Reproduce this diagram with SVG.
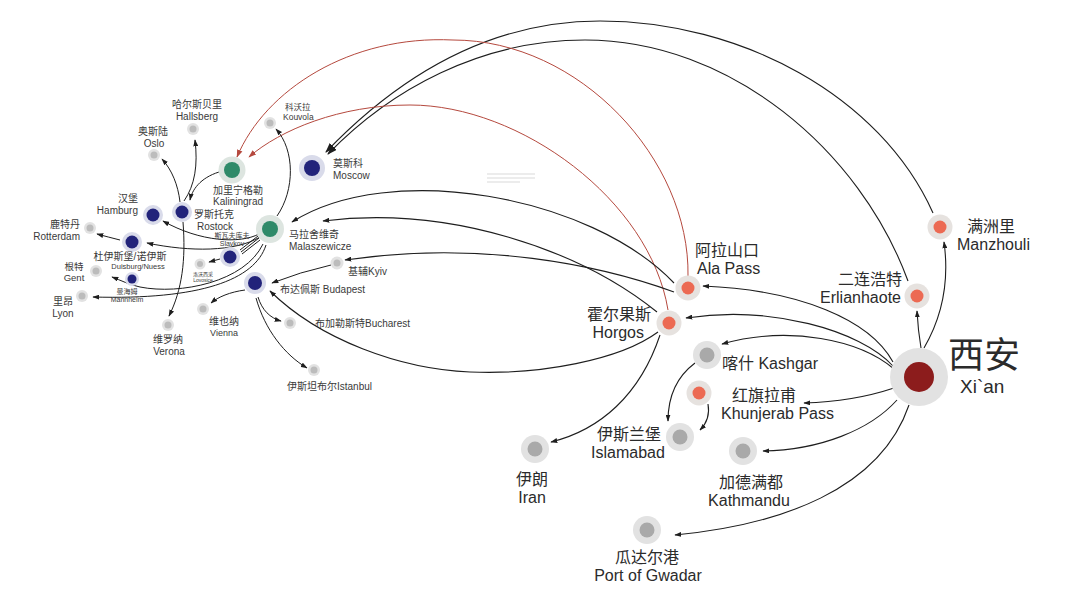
<svg xmlns="http://www.w3.org/2000/svg" width="1080" height="606" viewBox="0 0 1080 606">
<defs>
<style>
.c{fill:none;stroke:#1e1e1e;stroke-width:1.1}
.cs{fill:none;stroke:#1e1e1e;stroke-width:1}
.r{fill:none;stroke:#b5493e;stroke-width:1}
.hg{fill:#e2e2e2}.hs{fill:#e6e2df}.hn{fill:#d9dbea}.hgr{fill:#dde5e0}
.ig{fill:#a9a9a9}.is{fill:#ec6a53}.in{fill:#22237a}.igr{fill:#2f8a69}.ix{fill:#8c1c1c}.ism{fill:#bcbcbc}
text{font-family:"Liberation Sans","Noto Sans CJK SC",sans-serif;fill:#2b2b2b}
.L{font-size:16px}
.S{font-size:10px;fill:#3a3a3a}
.m{text-anchor:middle}.e{text-anchor:end}
</style>
<marker id="as" viewBox="0 0 10 7" refX="9" refY="3.5" markerWidth="7" markerHeight="5" orient="auto" markerUnits="userSpaceOnUse"><path d="M0,0 L10,3.5 L0,7 z" fill="#1e1e1e"/></marker>
<marker id="ab" viewBox="0 0 10 7" refX="9" refY="3.5" markerWidth="10" markerHeight="7" orient="auto" markerUnits="userSpaceOnUse"><path d="M0,0 L10,3.5 L0,7 z" fill="#1e1e1e"/></marker>
<marker id="arr" viewBox="0 0 10 7" refX="9" refY="3.5" markerWidth="8" markerHeight="6" orient="auto" markerUnits="userSpaceOnUse"><path d="M0,0 L10,3.5 L0,7 z" fill="#b5493e"/></marker>
</defs>
<rect width="1080" height="606" fill="#ffffff"/>

<g id="connectors">
<path class="c" d="M924 348 Q952 300 944 242" marker-end="url(#as)"/>
<path class="c" d="M921 348 Q918 330 917 311" marker-end="url(#as)"/>
<path class="c" d="M893 362 C870 320 800 290 703 286" marker-end="url(#as)"/>
<path class="c" d="M893 366 C860 330 770 305 686 318" marker-end="url(#as)"/>
<path class="c" d="M894 369 C860 340 790 325 722 344" marker-end="url(#as)"/>
<path class="c" d="M894 388 C870 396 840 402 804 403" marker-end="url(#as)"/>
<path class="c" d="M897 400 C870 430 820 450 763 451" marker-end="url(#as)"/>
<path class="c" d="M909 405 C880 490 780 525 675 535" marker-end="url(#as)"/>
<path class="c" d="M933 213 C880 95 740 21 600 21 C490 21 400 75 326 152" marker-end="url(#ab)"/>
<path class="c" d="M908 281 C860 150 730 40 585 40 C480 40 390 90 328 154" marker-end="url(#ab)"/>
<path class="r" d="M688 276 C690 160 580 40 453 40 C350 35 265 90 237 157" marker-end="url(#arr)"/>
<path class="r" d="M668 310 C650 200 520 105 410 105 C340 105 280 130 249 157" marker-end="url(#arr)"/>
<path class="c" d="M674 283 C590 195 390 160 292 222" marker-end="url(#as)"/>
<path class="c" d="M657 312 C580 250 450 205 323 221" marker-end="url(#as)"/>
<path class="c" d="M674 292 C600 265 480 240 345 260" marker-end="url(#as)"/>
<path class="c" d="M658 332 C620 360 540 375 470 372 C400 369 320 340 270 291" marker-end="url(#as)"/>
<path class="c" d="M660 335 C640 395 600 430 551 442" marker-end="url(#as)"/>
<path class="c" d="M695 363 C675 378 668 400 668 421" marker-end="url(#as)"/>
<path class="c" d="M708 404 C710 415 706 424 700 430" marker-end="url(#as)"/>
<path class="cs" d="M331 265 Q300 272 272 283" marker-end="url(#as)"/>
<path class="cs" d="M245 290 C230 292 218 297 211 303" marker-end="url(#as)"/>
<path class="cs" d="M258 297 C262 310 270 318 281 321" marker-end="url(#as)"/>
<path class="cs" d="M256 298 C265 330 285 355 307 368" marker-end="url(#as)"/>
<path class="cs" d="M277 216 C295 190 295 150 276 129" marker-end="url(#as)"/>
<path class="cs" d="M258 236 L240 250"/>
<path class="cs" d="M259 238 L241 252"/>
<path class="cs" d="M260 240 L242 254"/>
<path class="cs" d="M259 234 C240 244 200 242 163 221" marker-end="url(#as)"/>
<path class="cs" d="M260 237 C235 252 190 252 147 243" marker-end="url(#as)"/>
<path class="cs" d="M220 259 L209 262" marker-end="url(#as)"/>
<path class="cs" d="M263 244 C245 282 180 295 140 287 C130 285 120 280 112 277" marker-end="url(#as)"/>
<path class="cs" d="M266 245 C255 280 200 300 93 297" marker-end="url(#as)"/>
<path class="cs" d="M120 240 Q108 237 97 234" marker-end="url(#as)"/>
<path class="cs" d="M219 172 C200 178 192 190 190 200" marker-end="url(#as)"/>
<path class="cs" d="M180 202 C178 185 172 170 162 159" marker-end="url(#as)"/>
<path class="cs" d="M184 201 C195 185 198 165 195 140" marker-end="url(#as)"/>
<path class="cs" d="M183 222 C186 260 182 290 169 316" marker-end="url(#as)"/>
</g>

<g id="faint-note" stroke="#cfcfcf" stroke-width="0.8">
<line x1="487" y1="174" x2="535" y2="174"/>
<line x1="487" y1="178" x2="535" y2="178"/>
<line x1="487" y1="182" x2="520" y2="182"/>
</g>

<g id="xian"><circle class="hg" cx="919" cy="377" r="29"/><circle class="ix" cx="919" cy="377" r="15"/>
<text><tspan x="948" y="368" style="font-size:36px">西安</tspan><tspan x="960" y="393" style="font-size:19px">Xi`an</tspan></text></g>
<g id="manzhouli"><circle class="hs" cx="940" cy="227" r="12.5"/><circle class="is" cx="940" cy="227" r="6.5"/>
<text class="L"><tspan x="967" y="232">满洲里</tspan><tspan x="957" y="250">Manzhouli</tspan></text></g>
<g id="erlianhaote"><circle class="hs" cx="917" cy="296" r="12.5"/><circle class="is" cx="917" cy="296" r="6.5"/>
<text class="L e"><tspan x="902" y="285">二连浩特</tspan><tspan x="901" y="303">Erlianhaote</tspan></text></g>
<g id="alapass"><circle class="hs" cx="688" cy="288" r="12.5"/><circle class="is" cx="688" cy="288" r="6.5"/>
<text class="L"><tspan x="695" y="256">阿拉山口</tspan><tspan x="697" y="274">Ala Pass</tspan></text></g>
<g id="horgos"><circle class="hs" cx="669" cy="323" r="12.5"/><circle class="is" cx="669" cy="323" r="6.5"/>
<text class="L e"><tspan x="651" y="320">霍尔果斯</tspan><tspan x="644" y="338">Horgos</tspan></text></g>
<g id="kashgar"><circle class="hg" cx="707" cy="355" r="14"/><circle class="ig" cx="707" cy="355" r="7.5"/>
<text class="L" x="722" y="369">喀什 Kashgar</text></g>
<g id="khunjerab"><circle class="hs" cx="699" cy="393" r="12.5"/><circle class="is" cx="699" cy="393" r="6.5"/>
<text class="L"><tspan x="732" y="401">红旗拉甫</tspan><tspan x="721" y="419">Khunjerab Pass</tspan></text></g>
<g id="islamabad"><circle class="hg" cx="680" cy="437" r="14"/><circle class="ig" cx="680" cy="437" r="7.5"/>
<text class="L"><tspan x="597" y="440">伊斯兰堡</tspan><tspan x="591" y="458">Islamabad</tspan></text></g>
<g id="kathmandu"><circle class="hg" cx="743" cy="451" r="14"/><circle class="ig" cx="743" cy="451" r="7.5"/>
<text class="L m"><tspan x="751" y="488">加德满都</tspan><tspan x="749" y="506">Kathmandu</tspan></text></g>
<g id="iran"><circle class="hg" cx="535" cy="449" r="14"/><circle class="ig" cx="535" cy="449" r="7.5"/>
<text class="L m"><tspan x="532" y="485">伊朗</tspan><tspan x="532" y="503">Iran</tspan></text></g>
<g id="gwadar"><circle class="hg" cx="647" cy="530" r="14"/><circle class="ig" cx="647" cy="530" r="7.5"/>
<text class="L m"><tspan x="647" y="563">瓜达尔港</tspan><tspan x="648" y="581">Port of Gwadar</tspan></text></g>

<g id="moscow"><circle class="hn" cx="312" cy="168" r="13"/><circle class="in" cx="312" cy="168" r="8"/>
<text class="S"><tspan x="333" y="167">莫斯科</tspan><tspan x="333" y="179">Moscow</tspan></text></g>
<g id="kaliningrad"><circle class="hgr" cx="232" cy="170" r="13.5"/><circle class="igr" cx="232" cy="170" r="8"/>
<text class="S m"><tspan x="238" y="193.5">加里宁格勒</tspan><tspan x="238" y="205">Kaliningrad</tspan></text></g>
<g id="kouvola"><circle class="hg" cx="270" cy="123" r="6"/><circle class="ism" cx="270" cy="123" r="3.5"/>
<text class="S" style="font-size:8.5px"><tspan x="285" y="110">科沃拉</tspan><tspan x="283" y="120">Kouvola</tspan></text></g>
<g id="hallsberg"><circle class="hg" cx="193" cy="129" r="6"/><circle class="ism" cx="193" cy="129" r="3.5"/>
<text class="S m"><tspan x="197" y="108">哈尔斯贝里</tspan><tspan x="197" y="119.5">Hallsberg</tspan></text></g>
<g id="oslo"><circle class="hg" cx="154" cy="155" r="6"/><circle class="ism" cx="154" cy="155" r="3.5"/>
<text class="S m"><tspan x="153" y="135">奥斯陆</tspan><tspan x="154" y="146.5">Oslo</tspan></text></g>
<g id="rostock"><circle class="hn" cx="182" cy="212" r="10"/><circle class="in" cx="182" cy="212" r="6.5"/>
<text class="S"><tspan x="194" y="218">罗斯托克</tspan><tspan x="197" y="229.5">Rostock</tspan></text></g>
<g id="hamburg"><circle class="hn" cx="153" cy="215" r="10"/><circle class="in" cx="153" cy="215" r="6.5"/>
<text class="S e"><tspan x="138" y="202">汉堡</tspan><tspan x="138" y="213.5">Hamburg</tspan></text></g>
<g id="rotterdam"><circle class="hg" cx="90" cy="228" r="6"/><circle class="ism" cx="90" cy="228" r="3.5"/>
<text class="S e"><tspan x="80" y="228">鹿特丹</tspan><tspan x="80" y="239.5">Rotterdam</tspan></text></g>
<g id="duisburg"><circle class="hn" cx="132" cy="242" r="10"/><circle class="in" cx="132" cy="242" r="6.5"/>
<text class="S m"><tspan x="130" y="260">杜伊斯堡/诺伊斯</tspan><tspan x="138" y="269" style="font-size:7.5px">Duisburg/Nuess</tspan></text></g>
<g id="malaszewicze"><circle class="hgr" cx="270" cy="229" r="14"/><circle class="igr" cx="270" cy="229" r="8"/>
<text class="S"><tspan x="289" y="238">马拉舍维奇</tspan><tspan x="289" y="250">Malaszewicze</tspan></text></g>
<g id="slavkov"><circle class="hn" cx="230" cy="257" r="10"/><circle class="in" cx="230" cy="257" r="6.5"/>
<text class="S m" style="font-size:7px"><tspan x="232" y="237.5">斯瓦夫库夫</tspan><tspan x="232" y="245.5">Slavkov</tspan></text></g>
<g id="lovosice"><circle class="hg" cx="200" cy="264" r="5.5"/><circle class="ism" cx="200" cy="264" r="3"/>
<text class="S m" style="font-size:5px"><tspan x="203" y="275.5">洛沃西采</tspan><tspan x="203" y="281.5">Lovosice</tspan></text></g>
<g id="gent"><circle class="hg" cx="96" cy="271" r="6"/><circle class="ism" cx="96" cy="271" r="3.5"/>
<text class="S m" style="font-size:9.5px"><tspan x="74" y="270">根特</tspan><tspan x="74" y="281">Gent</tspan></text></g>
<g id="mannheim"><circle class="hn" cx="132" cy="279" r="7"/><circle class="in" cx="132" cy="279" r="4.5"/>
<text class="S m" style="font-size:7px"><tspan x="127" y="293.5">曼海姆</tspan><tspan x="127" y="301.5">Mannheim</tspan></text></g>
<g id="lyon"><circle class="hg" cx="82" cy="296" r="6"/><circle class="ism" cx="82" cy="296" r="3.5"/>
<text class="S m"><tspan x="63" y="305">里昂</tspan><tspan x="63" y="316.5">Lyon</tspan></text></g>
<g id="budapest"><circle class="hn" cx="255" cy="283" r="11"/><circle class="in" cx="255" cy="283" r="7"/>
<text class="S" x="280" y="293">布达佩斯 Budapest</text></g>
<g id="kyiv"><circle class="hg" cx="337" cy="263" r="6.5"/><circle class="ism" cx="337" cy="263" r="3.5"/>
<text class="S" x="348" y="275">基辅Kyiv</text></g>
<g id="vienna"><circle class="hg" cx="203" cy="309" r="6"/><circle class="ism" cx="203" cy="309" r="3.5"/>
<text class="S m"><tspan x="224" y="325">维也纳</tspan><tspan x="224" y="335.5" style="font-size:9px">Vienna</tspan></text></g>
<g id="verona"><circle class="hg" cx="168" cy="325" r="6"/><circle class="ism" cx="168" cy="325" r="3.5"/>
<text class="S m"><tspan x="168" y="343">维罗纳</tspan><tspan x="169" y="354.5">Verona</tspan></text></g>
<g id="bucharest"><circle class="hg" cx="290" cy="323" r="6"/><circle class="ism" cx="290" cy="323" r="3.5"/>
<text class="S" x="315" y="327">布加勒斯特Bucharest</text></g>
<g id="istanbul"><circle class="hg" cx="314" cy="370" r="6"/><circle class="ism" cx="314" cy="370" r="3.5"/>
<text class="S" x="287" y="390">伊斯坦布尔Istanbul</text></g>
</svg>
